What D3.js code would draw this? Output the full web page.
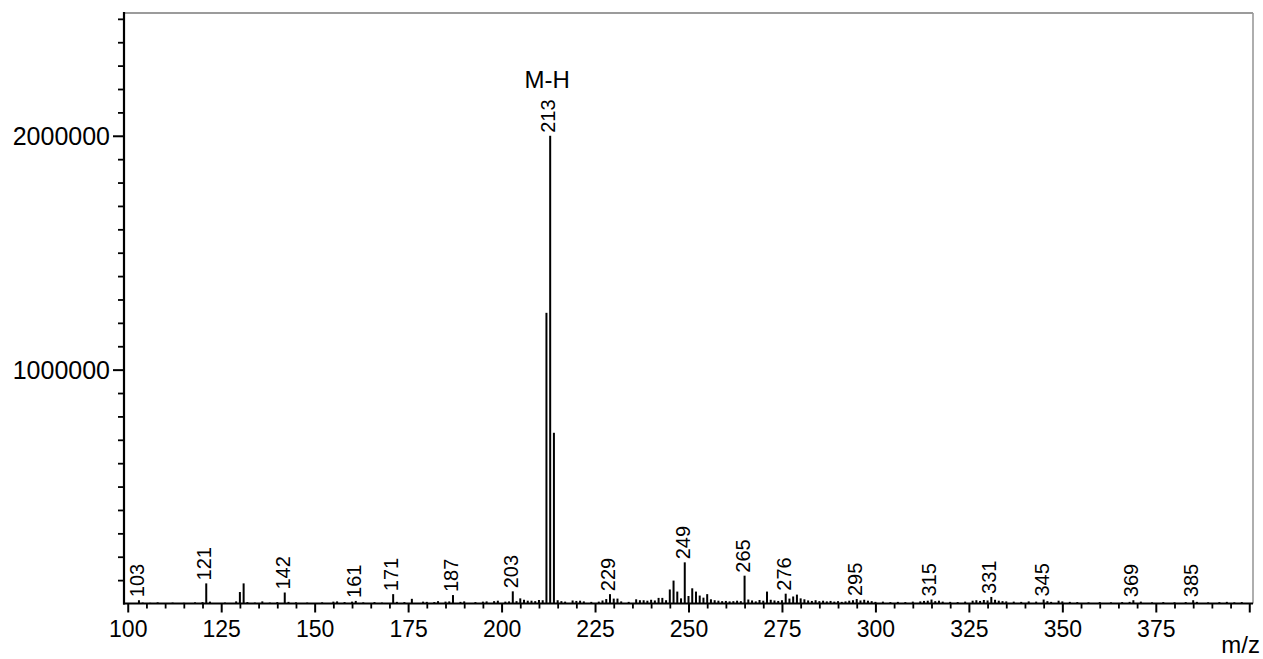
<!DOCTYPE html>
<html>
<head>
<meta charset="utf-8">
<script src="https://cdn.jsdelivr.net/npm/d3@7"></script>
<style>
  html, body { margin: 0; padding: 0; background: #fff; }
  svg { display: block; font-family: "Liberation Sans", Arial, sans-serif; }
</style>
</head>
<body>
<svg id="chart" width="1263" height="659"></svg>
<script>
// ---- Data ----
const peakMz = [103,121,130,131,142,161,171,176,187,203,205,212,213,214,229,230,231,245,246,247,249,250,251,252,253,254,255,265,266,271,276,277,278,279,295,315,331,345,369,385];
const peakIntensity = [14000,86000,49000,86000,47000,11000,40000,20000,36000,52000,22000,1243000,2000000,730000,40000,21000,21000,60000,98000,51000,176000,32000,65000,51000,34000,25000,40000,119000,17000,51000,42000,21000,30000,38000,19000,17000,28000,17000,14000,14000];

const noiseMz = [104,106,108,112,115,118,120,122,126,129,132,134,136,138,140,143,145,148,152,155,156,158,160,163,166,168,172,174,179,180,182,183,185,186,189,190,193,195,196,198,199,201,202,204,206,207,208,209,210,211,215,216,217,219,220,221,222,224,226,227,228,232,234,236,237,238,239,240,241,242,243,244,248,256,257,258,259,260,261,262,263,264,267,268,269,270,272,273,274,275,280,281,282,283,284,285,286,287,288,289,290,291,292,293,294,296,297,298,299,300,302,304,306,308,310,312,313,314,316,317,318,320,322,324,326,327,328,329,330,332,333,334,335,337,339,341,343,346,347,349,350,352,354,357,360,363,366,368,371,374,377,380,383,386,389,392,394,396,398];
const noiseIntensity = [4000,3000,5000,4000,3000,5000,6000,8000,4000,9000,6000,4000,9000,4000,6000,7000,5000,4000,5000,8000,9000,6000,8000,5000,6000,4000,7000,6000,8000,7000,6000,10000,8000,9000,7000,9000,6000,8000,9000,10000,12000,8000,9000,10000,16000,12000,12000,10000,15000,14000,14000,10000,8000,13000,11000,12000,9000,7000,8000,13000,19000,9000,7000,18000,14000,14000,12000,16000,13000,24000,24000,14000,22000,18000,14000,12000,10000,11000,9000,10000,12000,10000,13000,9000,15000,12000,16000,13000,11000,14000,22000,18000,13000,11000,14000,10000,12000,9000,11000,8000,10000,7000,9000,12000,14000,13000,16000,12000,10000,7000,8000,6000,7000,6000,8000,9000,11000,12000,10000,12000,8000,7000,6000,8000,12000,14000,11000,15000,13000,16000,12000,10000,9000,8000,7000,9000,8000,10000,7000,12000,9000,7000,6000,5000,6000,5000,6000,7000,8000,5000,6000,5000,6000,7000,5000,6000,7000,5000,6000];

const labelMz = [103,121,142,161,171,187,203,213,229,249,265,276,295,315,331,345,369,385];
const xMajorTicks = [100,125,150,175,200,225,250,275,300,325,350,375,400];
const xTickLabels = ["100","125","150","175","200","225","250","275","300","325","350","375"];
const yMajorTicks = [1000000, 2000000];
const yTickLabels = ["1000000", "2000000"];
const ionLabel = "M-H";
const xTitle = "m/z";

// ---- Layout ----
const svg = d3.select("#chart");
const pLeft = 124, pRight = 1253, pTop = 13, pBottom = 603.5;

const x = d3.scaleLinear().domain([99, 401]).range([pLeft, pRight]);
const y = d3.scaleLinear().domain([0, 2525000]).range([pBottom, pTop]);

// frame (top & right, gray)
svg.append("line").attr("x1", pLeft).attr("x2", pRight).attr("y1", pTop).attr("y2", pTop)
  .attr("stroke", "#7a7a7a").attr("stroke-width", 1.3);
svg.append("line").attr("x1", pRight).attr("x2", pRight).attr("y1", pTop).attr("y2", pBottom)
  .attr("stroke", "#9a9a9a").attr("stroke-width", 1.6);

// peaks
const peaks = peakMz.map((m, i) => ({ mz: m, v: peakIntensity[i] }))
  .concat(noiseMz.map((m, i) => ({ mz: m, v: noiseIntensity[i] })));
svg.append("g").selectAll("rect").data(peaks).join("rect")
  .attr("x", d => x(d.mz) - 1)
  .attr("width", 2)
  .attr("y", d => y(d.v))
  .attr("height", d => pBottom - y(d.v))
  .attr("fill", "#000");

// x axis
const xMinor = d3.range(100, 401, 5).filter(v => v % 25 !== 0);
const gx = svg.append("g").attr("transform", `translate(0,${pBottom})`);
gx.call(d3.axisBottom(x).tickValues(xMinor).tickSize(5).tickFormat(""))
  .call(g => g.selectAll(".tick line").attr("stroke-width", 1.8))
  .call(g => g.select(".domain").remove());
const gx2 = svg.append("g").attr("transform", `translate(0,${pBottom})`);
gx2.call(d3.axisBottom(x).tickValues(xMajorTicks).tickSize(9)
    .tickFormat(d => { const i = xMajorTicks.indexOf(d); return i < xTickLabels.length ? xTickLabels[i] : ""; }))
  .call(g => g.select(".domain").remove())
  .call(g => g.selectAll(".tick line").attr("stroke-width", 2))
  .call(g => g.selectAll(".tick text").attr("font-size", 23).attr("fill", "#000")
     .attr("font-family", "Liberation Sans, Arial, sans-serif").attr("dy", 0).attr("y", 33));
svg.append("line").attr("x1", pLeft - 1).attr("x2", pRight).attr("y1", pBottom).attr("y2", pBottom)
  .attr("stroke", "#000").attr("stroke-width", 2.2);

// y axis
const yMinor = d3.range(100000, 2500001, 100000).filter(v => v % 1000000 !== 0);
const gy = svg.append("g").attr("transform", `translate(${pLeft},0)`);
gy.call(d3.axisLeft(y).tickValues(yMinor).tickSize(6).tickFormat(""))
  .call(g => g.selectAll(".tick line").attr("stroke-width", 1.8))
  .call(g => g.select(".domain").remove());
const gy2 = svg.append("g").attr("transform", `translate(${pLeft},0)`);
gy2.call(d3.axisLeft(y).tickValues(yMajorTicks).tickSize(11)
    .tickFormat(d => yTickLabels[yMajorTicks.indexOf(d)]))
  .call(g => g.select(".domain").remove())
  .call(g => g.selectAll(".tick text").attr("font-size", 25).attr("fill", "#000")
     .attr("font-family", "Liberation Sans, Arial, sans-serif").attr("x", -14).attr("dy", "0.35em"))
  .call(g => g.selectAll(".tick line").attr("stroke-width", 2));
svg.append("line").attr("x1", pLeft).attr("x2", pLeft).attr("y1", pTop - 1).attr("y2", pBottom + 1)
  .attr("stroke", "#000").attr("stroke-width", 2.2);

// peak labels (rotated)
const byMz = new Map(peaks.map(d => [d.mz, d.v]));
svg.append("g").selectAll("text").data(labelMz).join("text")
  .attr("transform", d => `translate(${x(d) + 5},${y(byMz.get(d)) - 3}) rotate(-90)`)
  .attr("font-size", 20)
  .attr("fill", "#000")
  .text(d => String(d));

// ion annotation
svg.append("text")
  .attr("x", x(213) - 3).attr("y", 88)
  .attr("text-anchor", "middle")
  .attr("font-size", 24)
  .text(ionLabel);

// x title
svg.append("text")
  .attr("x", 1260).attr("y", 653)
  .attr("text-anchor", "end")
  .attr("font-size", 24)
  .text(xTitle);
</script>
</body>
</html>
